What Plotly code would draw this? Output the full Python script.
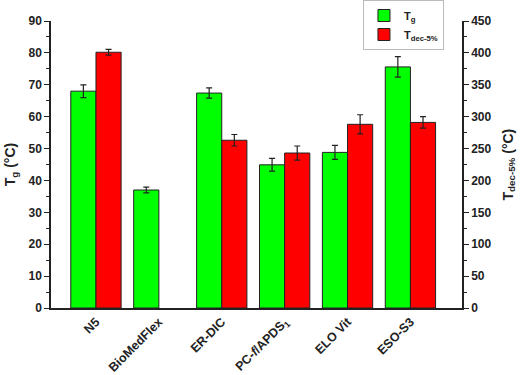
import plotly.graph_objects as go

categories = ["N5", "BioMedFlex", "ER-DIC", "PC-<i>f</i>/APDS<sub>1</sub>", "ELO Vit", "ESO-S3"]
tg_values = [68.0, 37.0, 67.4, 44.9, 48.8, 75.6]
tg_errors = [2.0, 0.9, 1.6, 2.0, 2.2, 3.2]
tdec_values = [401, None, 263, 243, 288, 291]
tdec_errors = [4.5, None, 9, 11, 15, 9]

x_idx = list(range(len(categories)))
FONT = "Arial, Liberation Sans, sans-serif"

fig = go.Figure()
fig.add_trace(go.Bar(
    x=x_idx, y=tg_values, name="T<sub>g</sub>",
    width=0.4, offset=-0.4,
    marker=dict(color="#00FF00", line=dict(color="#222222", width=1)),
    error_y=dict(type="data", array=tg_errors, color="#222222", thickness=1.2, width=3),
    yaxis="y",
))
fig.add_trace(go.Bar(
    x=x_idx, y=tdec_values, name="T<sub>dec-5%</sub>",
    width=0.4, offset=0,
    marker=dict(color="#FF0000", line=dict(color="#222222", width=1)),
    error_y=dict(type="data", array=tdec_errors, color="#222222", thickness=1.2, width=3),
    yaxis="y2",
))

ytickfont = dict(family=FONT, size=12, color="#222222", weight="bold")
xtickfont = dict(family=FONT, size=12.5, color="#222222", weight="bold")
titlefont = dict(family=FONT, size=14, color="#222222", weight="bold")

fig.update_layout(
    width=520, height=375,
    margin=dict(l=51, r=58, t=21, b=67, autoexpand=False),
    paper_bgcolor="white", plot_bgcolor="white",
    showlegend=True,
    legend=dict(
        xref="container", yref="container",
        x=0.698, y=1.0, xanchor="left", yanchor="top",
        bgcolor="white", bordercolor="#BBBBBB", borderwidth=1,
        font=dict(family=FONT, size=11, color="#222222", weight="bold"),
        tracegroupgap=0, itemwidth=30,
    ),
    xaxis=dict(
        range=[-0.715, 5.82], automargin=False,
        tickvals=x_idx, ticktext=categories,
        tickangle=-45, tickfont=xtickfont,
        showline=True, linecolor="#222222", linewidth=1.5,
        showgrid=False, zeroline=False, ticks="",
    ),
    yaxis=dict(
        range=[0, 90], dtick=10, automargin=False,
        showline=True, linecolor="#222222", linewidth=1.5,
        ticks="outside", ticklen=5, tickwidth=1.2, tickcolor="#222222",
        minor=dict(dtick=5, ticks="outside", ticklen=3, tickcolor="#222222", tickwidth=1),
        tickfont=ytickfont, showgrid=False, zeroline=False,
        title=dict(text="T<sub>g</sub> (°C)", font=titlefont, standoff=10),
    ),
    yaxis2=dict(
        range=[0, 450], dtick=50, overlaying="y", side="right", automargin=False,
        showline=True, linecolor="#222222", linewidth=1.5,
        ticks="outside", ticklen=5, tickwidth=1.2, tickcolor="#222222",
        minor=dict(dtick=25, ticks="outside", ticklen=3, tickcolor="#222222", tickwidth=1),
        tickfont=ytickfont, showgrid=False, zeroline=False,
    ),
    annotations=[dict(
        text="T<sub>dec-5%</sub> (°C)", textangle=-90,
        xref="paper", yref="paper", x=1.112, y=0.5,
        xanchor="center", yanchor="middle", showarrow=False,
        font=titlefont,
    )],
)

fig.write_html("out.html")
